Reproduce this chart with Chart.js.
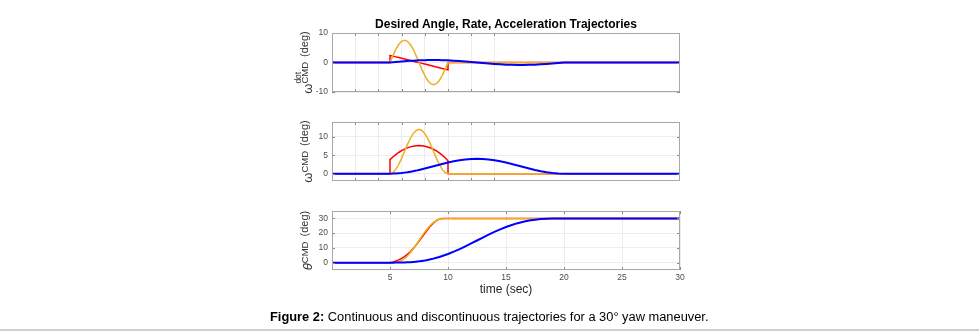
<!DOCTYPE html>
<html><head><meta charset="utf-8">
<script src="https://cdn.jsdelivr.net/npm/chart.js@4/dist/chart.umd.min.js"></script>
<style>
html,body{margin:0;padding:0;background:#fff;}
#wrap{position:relative;width:979px;height:332px;overflow:hidden;font-family:"Liberation Sans",Arial,sans-serif;background:#fff;}
canvas{position:absolute;left:0;top:0;}
#title{position:absolute;left:282px;width:448px;top:17.1px;line-height:14px;text-align:center;font-weight:bold;font-size:12px;white-space:nowrap;color:#000;}
#caption{position:absolute;left:270px;top:308.8px;line-height:15px;font-size:12.85px;white-space:nowrap;color:#000;}
#rule{position:absolute;left:0;width:979px;top:329px;height:2px;background:#cfcfcf;}
</style></head>
<body>
<div id="wrap">
<canvas id="c1" width="979" height="332"></canvas>
<canvas id="c2" width="979" height="332"></canvas>
<canvas id="c3" width="979" height="332"></canvas>
<div id="title">Desired Angle, Rate, Acceleration Trajectories</div>
<div id="caption"><b>Figure 2:</b> Continuous and discontinuous trajectories for a 30° yaw maneuver.</div>
<div id="rule"></div>
</div>
<script>
// ---- data (time in sec) ----
const time = [0, 5, 5, 5.25, 5.5, 5.75, 6, 6.25, 6.5, 6.75, 7, 7.25, 7.5, 7.75, 8, 8.25, 8.5, 8.75, 9, 9.25, 9.5, 9.75, 10, 10, 10.5, 11, 11.5, 12, 12.5, 13, 13.5, 14, 14.5, 15, 15.5, 16, 16.5, 17, 17.5, 18, 18.5, 19, 19.5, 20, 30];

// acceleration (deg/s^2)
const accelContinuous = [0, 0, 0, 2.33, 4.43, 6.10, 7.17, 7.54, 7.17, 6.10, 4.43, 2.33, 0, -2.33, -4.43, -6.10, -7.17, -7.54, -7.17, -6.10, -4.43, -2.33, 0, 0, 0, 0, 0, 0, 0, 0, 0, 0, 0, 0, 0, 0, 0, 0, 0, 0, 0, 0, 0, 0, 0];
const accelDiscontinuous = [0, 0, 2.4, 2.16, 1.91, 1.67, 1.42, 1.18, 0.93, 0.69, 0.44, 0.2, -0.05, -0.3, -0.54, -0.79, -1.03, -1.28, -1.52, -1.77, -2.01, -2.26, -2.5, 0, 0, 0, 0, 0, 0, 0, 0, 0, 0, 0, 0, 0, 0, 0, 0, 0, 0, 0, 0, 0, 0];
const accelSlow = [0, 0, 0, 0.09, 0.17, 0.26, 0.34, 0.42, 0.49, 0.56, 0.62, 0.68, 0.73, 0.77, 0.80, 0.82, 0.83, 0.84, 0.83, 0.82, 0.80, 0.77, 0.73, 0.73, 0.62, 0.49, 0.34, 0.17, 0, -0.17, -0.34, -0.49, -0.62, -0.73, -0.80, -0.83, -0.83, -0.80, -0.73, -0.62, -0.49, -0.34, -0.17, 0, 0];

// rate (deg/s)
const rateContinuous = [0, 0, 0, 0.29, 1.15, 2.47, 4.15, 6.0, 7.85, 9.53, 10.85, 11.71, 12.0, 11.71, 10.85, 9.53, 7.85, 6.0, 4.15, 2.47, 1.15, 0.29, 0, 0, 0, 0, 0, 0, 0, 0, 0, 0, 0, 0, 0, 0, 0, 0, 0, 0, 0, 0, 0, 0, 0];
const rateDiscontinuous = [0, 0, 3.8, 4.51, 5.16, 5.73, 6.23, 6.65, 6.99, 7.26, 7.45, 7.56, 7.6, 7.56, 7.45, 7.24, 6.95, 6.6, 6.15, 5.6, 5.0, 4.3, 3.5, 0, 0, 0, 0, 0, 0, 0, 0, 0, 0, 0, 0, 0, 0, 0, 0, 0, 0, 0, 0, 0, 0];
const rateSlow = [0, 0, 0, 0.01, 0.04, 0.10, 0.17, 0.27, 0.38, 0.51, 0.66, 0.82, 1.0, 1.19, 1.38, 1.58, 1.79, 2.0, 2.21, 2.42, 2.62, 2.81, 3.0, 3.0, 3.34, 3.62, 3.83, 3.96, 4.0, 3.96, 3.83, 3.62, 3.34, 3.0, 2.62, 2.21, 1.79, 1.38, 1.0, 0.66, 0.38, 0.17, 0.04, 0, 0];

// angle (deg)
const angleContinuous = [0, 0, 0, 0.02, 0.19, 0.64, 1.46, 2.73, 4.46, 6.64, 9.19, 12.02, 15, 17.98, 20.81, 23.36, 25.54, 27.27, 28.54, 29.36, 29.81, 29.98, 30, 30, 30, 30, 30, 30, 30, 30, 30, 30, 30, 30, 30, 30, 30, 30, 30, 30, 30, 30, 30, 30, 30];
const angleDiscontinuous = [0, 0, 0, 0.5, 1.1, 1.9, 2.9, 4.1, 5.6, 7.4, 9.5, 11.9, 14.5, 17.2, 19.9, 22.5, 24.9, 26.9, 28.5, 29.5, 29.9, 30, 30, 30, 30, 30, 30, 30, 30, 30, 30, 30, 30, 30, 30, 30, 30, 30, 30, 30, 30, 30, 30, 30, 30];
const angleSlow = [0, 0, 0, 0, 0.01, 0.02, 0.06, 0.11, 0.19, 0.30, 0.45, 0.64, 0.86, 1.14, 1.46, 1.83, 2.25, 2.73, 3.25, 3.83, 4.46, 5.14, 5.87, 5.87, 7.45, 9.19, 11.06, 13.01, 15, 16.99, 18.94, 20.81, 22.55, 24.14, 25.54, 26.75, 27.75, 28.54, 29.14, 29.55, 29.81, 29.94, 29.99, 30, 30];

// ticks
const accelTicks = [-10, 0, 10];
const rateTicks = [0, 5, 10];
const angleTicks = [0, 10, 20, 30];
const timeTicksUpper = [2, 4, 6, 8, 10, 12, 14];
const timeTicksLower = [5, 10, 15, 20, 25, 30];

const FONT = '"Liberation Sans", Arial, sans-serif';
const BLUE = '#0000ff', RED = '#ff0000', ORANGE = '#edb120';

const axesFrame = {
  id: 'axesFrame',
  afterDraw(chart, args, opts) {
    const ctx = chart.ctx, a = chart.chartArea;
    const xs = chart.scales.x, ys = chart.scales.y;
    ctx.save();
    ctx.lineWidth = 1;
    ctx.strokeStyle = '#8a8a8a';
    ctx.beginPath();
    xs.ticks.forEach(t => {
      const p = Math.round(xs.getPixelForValue(t.value)) + 0.5;
      ctx.moveTo(p, a.bottom); ctx.lineTo(p, a.bottom - 3);
      ctx.moveTo(p, a.top); ctx.lineTo(p, a.top + 3);
    });
    ys.ticks.forEach(t => {
      const p = Math.round(ys.getPixelForValue(t.value)) + 0.5;
      ctx.moveTo(a.left, p); ctx.lineTo(a.left + 3, p);
      ctx.moveTo(a.right, p); ctx.lineTo(a.right - 3, p);
    });
    ctx.stroke();
    ctx.strokeStyle = '#a8a8a8';
    ctx.strokeRect(a.left + 0.5, a.top + 0.5, a.right - a.left - 1, a.bottom - a.top - 1);

    const L = opts.label;
    if (L) {
      const cy = (a.top + a.bottom) / 2;
      ctx.translate(opts.labelX, cy);
      ctx.rotate(-Math.PI / 2);
      ctx.fillStyle = '#333333';
      ctx.textBaseline = 'alphabetic';
      ctx.textAlign = 'left';
      const fMain = (L.italic ? 'italic ' : '') + '13px ' + FONT;
      const fSub = '9.5px ' + FONT;
      const fSup = '8.5px ' + FONT;
      const fUnit = '11px ' + FONT;
      ctx.font = fMain; const wMain = ctx.measureText(L.main).width;
      ctx.font = fSub; const wSub = ctx.measureText(L.sub).width;
      let wSup = 0;
      if (L.sup) { ctx.font = fSup; wSup = ctx.measureText(L.sup).width; }
      ctx.font = fUnit; const wUnit = ctx.measureText(L.unit).width;
      const gap = 2;
      const total = wMain + Math.max(wSub, wSup) + gap + wUnit;
      let x = -total / 2;
      ctx.font = fMain; ctx.fillText(L.main, x, 3.5);
      x += wMain;
      ctx.font = fSub; ctx.fillText(L.sub, x, 0);
      if (L.sup) { ctx.font = fSup; ctx.fillText(L.sup, x, -7.5); }
      x += Math.max(wSub, wSup) + gap;
      ctx.font = fUnit; ctx.fillText(L.unit, x, 0);
    }
    ctx.restore();
  }
};

function series(arr, color, width) {
  return {
    data: time.map((t, i) => ({ x: t, y: arr[i] })),
    borderColor: color, backgroundColor: color, borderWidth: width,
    pointRadius: 0, tension: 0, fill: false
  };
}

function makeChart(id, data, yMin, yMax, yTicks, xTicks, showX, padTop, padBottom, label) {
  return new Chart(document.getElementById(id), {
    type: 'line',
    data: { datasets: data },
    plugins: [axesFrame],
    options: {
      responsive: false, animation: false, events: [],
      layout: { padding: { left: 0, right: 299, top: padTop, bottom: padBottom } },
      plugins: { legend: { display: false }, tooltip: { enabled: false },
        axesFrame: { label: label, labelX: 308 } },
      scales: {
        x: {
          type: 'linear', min: 0, max: 30,
          afterBuildTicks: s => { s.ticks = xTicks.map(v => ({ value: v })); },
          afterFit: s => { s.height = showX ? 30 : 0; },
          grid: { color: '#ececec', drawTicks: false },
          border: { display: false },
          ticks: { display: showX, color: '#4d4d4d', font: { size: 8.5, family: FONT }, padding: 3, maxRotation: 0, autoSkip: false },
          title: { display: showX, text: 'time (sec)', color: '#262626', font: { size: 12, family: FONT }, padding: { top: 0, bottom: 3 } }
        },
        y: {
          type: 'linear', min: yMin, max: yMax,
          afterBuildTicks: s => { s.ticks = yTicks.map(v => ({ value: v })); },
          afterFit: s => { s.width = 332; },
          grid: { color: '#ececec', drawTicks: false },
          border: { display: false },
          ticks: { color: '#4d4d4d', font: { size: 8.5, family: FONT }, padding: 4 }
        }
      }
    }
  });
}

makeChart('c1', [series(accelSlow, BLUE, 2), series(accelContinuous, ORANGE, 1.5), series(accelDiscontinuous, RED, 1.5)],
  -10, 10, accelTicks, timeTicksUpper, false, 33, 240,
  { main: 'ω', sub: 'CMD', sup: 'dot', unit: ' (deg)' });
makeChart('c2', [series(rateSlow, BLUE, 2), series(rateContinuous, ORANGE, 1.5), series(rateDiscontinuous, RED, 1.5)],
  -2, 14, rateTicks, timeTicksUpper, false, 122, 151,
  { main: 'ω', sub: 'CMD', unit: ' (deg)' });
makeChart('c3', [series(angleSlow, BLUE, 2), series(angleContinuous, ORANGE, 1.5), series(angleDiscontinuous, RED, 1.5)],
  -5, 35, angleTicks, timeTicksLower, true, 211, 32,
  { main: 'θ', italic: true, sub: 'CMD', unit: ' (deg)' });
</script>
</body></html>
